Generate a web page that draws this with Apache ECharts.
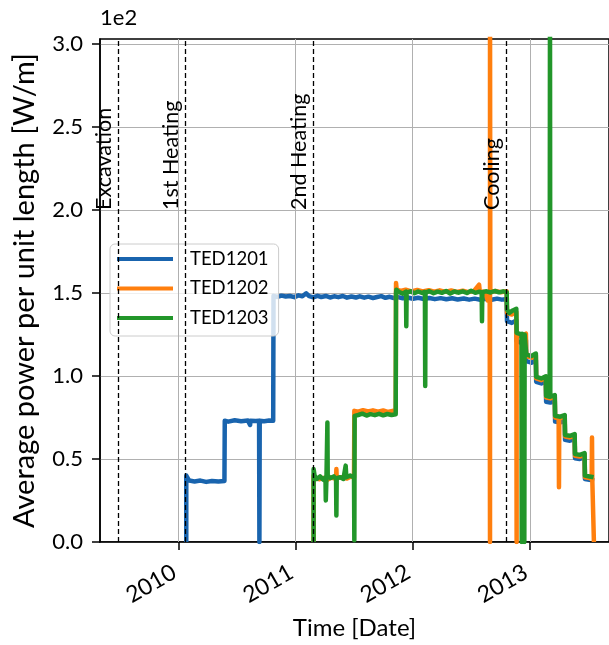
<!DOCTYPE html>
<html>
<head>
<meta charset="utf-8">
<script src="https://cdn.jsdelivr.net/npm/echarts@6/dist/echarts.min.js"></script>
<style>
  html, body { margin: 0; padding: 0; background: #ffffff; }
  #chart { width: 609px; height: 645px; }
</style>
</head>
<body>
<div id="chart"></div>
<script>
// Average power per unit length of the three heaters [W/m], [date, value]
const seriesNames = ['TED1201', 'TED1202', 'TED1203'];

const ted1201 = [
  ['2010-01-25', 0], ['2010-01-25', 40], ['2010-01-29', 38.5], ['2010-02-03', 37], ['2010-02-20', 36.5],
  ['2010-03-10', 37], ['2010-03-28', 36.2], ['2010-04-15', 36.8], ['2010-05-05', 36.4], ['2010-05-24', 36.8],
  ['2010-05-25', 73], ['2010-06-05', 72.5], ['2010-06-25', 73.3], ['2010-07-15', 72.8], ['2010-08-05', 73.2],
  ['2010-08-11', 73], ['2010-08-12', 70.5], ['2010-08-13', 73], ['2010-08-30', 72.9], ['2010-09-09', 73.1],
  ['2010-09-10', 0], ['2010-09-11', 73], ['2010-09-25', 72.8], ['2010-10-10', 73.2], ['2010-10-23', 73],
  ['2010-10-24', 148.3], ['2010-11-05', 147.6], ['2010-11-18', 148.4], ['2010-12-01', 147.9], ['2010-12-14', 148.2],
  ['2010-12-28', 147.5], ['2011-01-10', 148.6], ['2011-01-22', 148.0], ['2011-02-03', 149.8], ['2011-02-12', 148.1],
  ['2011-02-25', 147.4], ['2011-03-10', 148.3], ['2011-03-22', 147.6], ['2011-04-05', 148.2], ['2011-04-18', 147.3],
  ['2011-05-01', 148.0], ['2011-05-14', 147.5], ['2011-05-28', 148.2], ['2011-06-10', 147.2], ['2011-06-24', 147.9],
  ['2011-07-08', 147.3], ['2011-07-20', 148.0], ['2011-08-03', 147.2], ['2011-08-16', 147.8], ['2011-08-30', 147.0],
  ['2011-09-12', 147.6], ['2011-09-25', 148.1], ['2011-10-08', 147.1], ['2011-10-21', 147.7], ['2011-11-03', 147.0],
  ['2011-11-16', 147.5], ['2011-12-01', 146.8], ['2011-12-15', 147.3], ['2012-01-02', 146.5], ['2012-01-18', 147.1],
  ['2012-02-05', 146.4], ['2012-02-22', 147.0], ['2012-03-10', 146.3], ['2012-03-28', 146.9], ['2012-04-15', 146.2],
  ['2012-05-03', 146.8], ['2012-05-20', 146.1], ['2012-06-08', 146.7], ['2012-06-25', 146.0], ['2012-07-12', 146.6],
  ['2012-07-30', 145.9], ['2012-08-16', 146.5], ['2012-09-03', 145.9], ['2012-09-20', 146.6], ['2012-10-05', 146.0],
  ['2012-10-20', 146.4],
  ['2012-10-21', 133], ['2012-11-05', 132], ['2012-11-19', 133.5],
  ['2012-11-20', 121], ['2012-12-05', 120], ['2012-12-19', 121.5],
  ['2012-12-20', 109], ['2013-01-05', 108], ['2013-01-19', 109.5],
  ['2013-01-20', 96.5], ['2013-02-05', 95.5], ['2013-02-19', 96.8],
  ['2013-02-20', 84.5], ['2013-03-05', 84], ['2013-03-19', 85],
  ['2013-03-20', 72.5], ['2013-04-05', 72], ['2013-04-19', 73],
  ['2013-04-20', 61.5], ['2013-05-05', 61], ['2013-05-20', 62],
  ['2013-05-21', 50.5], ['2013-06-05', 50], ['2013-06-20', 51],
  ['2013-06-21', 38], ['2013-07-05', 37.5], ['2013-07-20', 37]
];

const ted1202 = [
  ['2011-02-26', 0], ['2011-02-26', 40], ['2011-03-05', 38.5], ['2011-03-15', 37.8], ['2011-03-28', 38.6],
  ['2011-04-10', 37.5], ['2011-04-22', 38.8], ['2011-05-07', 38], ['2011-05-08', 44], ['2011-05-09', 38.5],
  ['2011-05-25', 39], ['2011-06-10', 38.2], ['2011-06-22', 39.5], ['2011-07-02', 38.8],
  ['2011-07-03', 79], ['2011-07-15', 78.5], ['2011-07-30', 79.4], ['2011-08-15', 78.6], ['2011-08-30', 79.3],
  ['2011-09-15', 78.5], ['2011-10-01', 79.2], ['2011-10-15', 78.4], ['2011-10-30', 79], ['2011-11-09', 78.6],
  ['2011-11-10', 156], ['2011-11-12', 152], ['2011-11-25', 151.2], ['2011-12-10', 152], ['2011-12-28', 151],
  ['2012-01-15', 151.8], ['2012-02-01', 150.9], ['2012-02-20', 151.7], ['2012-03-08', 150.8], ['2012-03-25', 151.6],
  ['2012-04-12', 150.7], ['2012-04-30', 151.5], ['2012-05-18', 150.6], ['2012-06-05', 151.4], ['2012-06-22', 150.5],
  ['2012-07-10', 151.3], ['2012-07-26', 155], ['2012-07-28', 151], ['2012-08-12', 150.6], ['2012-08-22', 145.5],
  ['2012-08-28', 150.5], ['2012-08-29', 0], ['2012-08-29', 330], ['2012-08-30', 150.8], ['2012-09-15', 151.2],
  ['2012-10-01', 150.5], ['2012-10-20', 151],
  ['2012-10-21', 138], ['2012-11-05', 137], ['2012-11-19', 138.5],
  ['2012-11-20', 0], ['2012-11-20', 125], ['2012-12-05', 124], ['2012-12-19', 125.5],
  ['2012-12-20', 112], ['2013-01-05', 111], ['2013-01-19', 112.5],
  ['2013-01-20', 98.5], ['2013-02-05', 97.5], ['2013-02-19', 99],
  ['2013-02-20', 87], ['2013-03-05', 86.5], ['2013-03-19', 87.5],
  ['2013-03-20', 75], ['2013-03-31', 74.5], ['2013-04-01', 33], ['2013-04-02', 74.5], ['2013-04-19', 75.5],
  ['2013-04-20', 63.5], ['2013-05-05', 63], ['2013-05-20', 64],
  ['2013-05-21', 52], ['2013-06-05', 51.5], ['2013-06-20', 52.5],
  ['2013-06-21', 39], ['2013-07-05', 38.5], ['2013-07-12', 38], ['2013-07-13', 63], ['2013-07-14', 37],
  ['2013-07-19', 36], ['2013-07-19', 0]
];

const ted1203 = [
  ['2011-02-26', 0], ['2011-02-26', 44], ['2011-03-01', 40], ['2011-03-08', 38], ['2011-03-18', 39.5],
  ['2011-03-28', 37.5], ['2011-04-04', 39], ['2011-04-05', 25], ['2011-04-07', 38], ['2011-04-10', 72],
  ['2011-04-11', 40], ['2011-04-20', 38.5], ['2011-04-30', 39.5], ['2011-05-07', 38], ['2011-05-08', 16],
  ['2011-05-09', 38.5], ['2011-05-20', 39], ['2011-05-30', 38], ['2011-06-06', 46], ['2011-06-08', 39],
  ['2011-06-20', 40], ['2011-07-02', 39], ['2011-07-03', 1],
  ['2011-07-04', 76], ['2011-07-15', 76.5], ['2011-07-28', 77.3], ['2011-08-10', 76.2], ['2011-08-22', 77],
  ['2011-09-05', 76.4], ['2011-09-18', 77.2], ['2011-10-01', 76.3], ['2011-10-14', 77.1], ['2011-10-27', 76.5],
  ['2011-11-09', 77],
  ['2011-11-10', 150], ['2011-11-11', 152], ['2011-11-20', 150.5], ['2011-12-01', 149.6], ['2011-12-11', 150.8],
  ['2011-12-12', 130], ['2011-12-13', 150.2], ['2011-12-25', 151], ['2012-01-06', 149.8], ['2012-01-18', 150.9],
  ['2012-01-30', 150], ['2012-02-08', 150.6], ['2012-02-09', 94], ['2012-02-10', 150.2], ['2012-02-22', 151.1],
  ['2012-03-06', 149.9], ['2012-03-19', 150.8], ['2012-04-01', 150.1], ['2012-04-14', 151.2], ['2012-04-27', 149.7],
  ['2012-05-10', 150.9], ['2012-05-23', 150.2], ['2012-06-05', 151], ['2012-06-18', 150], ['2012-07-01', 151.3],
  ['2012-07-14', 150.1], ['2012-07-27', 150.8], ['2012-08-03', 150.2], ['2012-08-04', 133], ['2012-08-05', 150.5],
  ['2012-08-18', 151], ['2012-08-31', 150.3], ['2012-09-13', 151.2], ['2012-09-26', 150.4], ['2012-10-09', 151],
  ['2012-10-20', 150.5],
  ['2012-10-21', 140], ['2012-10-28', 138], ['2012-11-08', 139.5], ['2012-11-19', 140.5],
  ['2012-11-20', 126], ['2012-12-05', 125], ['2012-12-06', 0], ['2012-12-07', 125.5], ['2012-12-13', 125],
  ['2012-12-14', 0], ['2012-12-15', 125], ['2012-12-19', 126],
  ['2012-12-20', 113], ['2013-01-05', 112], ['2013-01-19', 113.5],
  ['2013-01-20', 99.5], ['2013-02-05', 98.5], ['2013-02-19', 99.8],
  ['2013-02-20', 88], ['2013-03-03', 87.5], ['2013-03-04', 330], ['2013-03-05', 87.5], ['2013-03-19', 88.5],
  ['2013-03-20', 76], ['2013-04-05', 75.5], ['2013-04-19', 76.5],
  ['2013-04-20', 64.5], ['2013-05-05', 64], ['2013-05-20', 65],
  ['2013-05-21', 53], ['2013-06-05', 52.5], ['2013-06-20', 53.5],
  ['2013-06-21', 40], ['2013-07-05', 39.5], ['2013-07-18', 39]
];

// Test phases marked with vertical dashed lines
const eventDates = ['2009-06-28', '2010-01-23', '2011-02-26', '2012-10-20'];
const eventNames = ['Excavation', '1st Heating', '2nd Heating', 'Cooling'];

// Axis ticks
const yearTicks = ['2010-01-01', '2011-01-01', '2012-01-01', '2013-01-01'];
const yTicks = [0, 50, 100, 150, 200, 250, 300];

const xStart = '2009-05-01';
const xEnd = '2013-09-04';
const yMax = 303;
const eventLabelLevel = 200;

const colors = ['#1964ae', '#ff7f0e', '#22962a'];
const FONT = 'Lato';
const INK = '#000';

const ts = s => Date.parse(s + 'T00:00:00Z');
const toPairs = arr => arr.map(p => [ts(p[0]), p[1]]);

const chart = echarts.init(document.getElementById('chart'), null, { renderer: 'canvas' });

const dataSeries = [ted1201, ted1202, ted1203].map((arr, i) => ({
  name: seriesNames[i],
  type: 'line',
  data: toPairs(arr),
  color: colors[i],
  showSymbol: false,
  symbol: 'none',
  clip: true,
  z: 2 + i * 0.01,
  lineStyle: { color: colors[i], width: 4.5, join: 'round' },
  emphasis: { disabled: true },
  animation: false
}));

const gridLineSeries = {
  name: 'yearGrid',
  type: 'line',
  data: [],
  z: 1,
  silent: true,
  markLine: {
    silent: true,
    symbol: 'none',
    animation: false,
    label: { show: false },
    lineStyle: { color: '#b0b0b0', width: 1, type: 'solid' },
    data: yearTicks.map(d => ({ xAxis: ts(d) }))
  }
};

const eventSeries = {
  name: 'events',
  type: 'line',
  data: [],
  z: 5,
  silent: true,
  markLine: {
    silent: true,
    symbol: 'none',
    animation: false,
    lineStyle: { color: '#000', width: 1.3, type: [5, 3] },
    label: { show: false },
    data: eventDates.map(d => ({ xAxis: ts(d) })).concat(
      eventDates.map((d, i) => [
        {
          coord: [ts(d), eventLabelLevel],
          lineStyle: { color: 'rgba(0,0,0,0)', width: 0 },
          label: {
            show: true,
            position: 'insideStartTop',
            formatter: eventNames[i],
            distance: [0, 4],
            fontFamily: FONT,
            fontSize: 21.5,
            color: INK
          }
        },
        { coord: [ts(d), yMax] }
      ])
    )
  }
};

chart.setOption({
  animation: false,
  backgroundColor: '#ffffff',
  title: {
    text: '1e2',
    left: 100,
    top: 7,
    padding: 0,
    textStyle: { fontFamily: FONT, fontSize: 22, fontWeight: 'normal', color: INK }
  },
  grid: {
    left: 100, top: 39, right: -2, bottom: 101,
    show: true, borderColor: '#000', borderWidth: 1.5, backgroundColor: 'transparent'
  },
  legend: {
    data: seriesNames,
    orient: 'vertical',
    left: 110,
    top: 244,
    icon: 'rect',
    itemWidth: 56,
    itemHeight: 4,
    itemGap: 9.5,
    padding: [5, 10, 8, 7],
    backgroundColor: 'rgba(255,255,255,0.8)',
    borderColor: '#cccccc',
    borderWidth: 1,
    borderRadius: 5,
    selectedMode: false,
    textStyle: { fontFamily: FONT, fontSize: 18.5, color: INK, lineHeight: 20, padding: [0, 0, 0, 12] }
  },
  xAxis: {
    type: 'value',
    min: ts(xStart),
    max: ts(xEnd),
    name: 'Time [Date]',
    nameLocation: 'middle',
    nameGap: 74,
    nameTextStyle: { fontFamily: FONT, fontSize: 24, color: INK },
    axisLine: { show: true, lineStyle: { color: '#000', width: 1.5 } },
    axisTick: { show: true, length: 8, lineStyle: { color: '#000', width: 1.5 }, customValues: yearTicks.map(ts) },
    axisLabel: {
      customValues: yearTicks.map(ts),
      formatter: v => String(new Date(v).getUTCFullYear()),
      rotate: 30,
      margin: 26,
      padding: [0, 5, 0, 0],
      fontFamily: FONT,
      fontSize: 23,
      color: INK
    },
    splitLine: { show: false }
  },
  yAxis: {
    type: 'value',
    min: 0,
    max: yMax,
    interval: 50,
    name: 'Average power per unit length [W/m]',
    nameLocation: 'middle',
    nameGap: 61,
    nameTextStyle: { fontFamily: FONT, fontSize: 29, color: INK },
    axisLine: { show: true, lineStyle: { color: '#000', width: 1.5 } },
    axisTick: { show: true, length: 8, lineStyle: { color: '#000', width: 1.5 }, customValues: yTicks },
    axisLabel: {
      customValues: yTicks,
      formatter: v => (v / 100).toFixed(1),
      margin: 17,
      fontFamily: FONT,
      fontSize: 22,
      color: INK
    },
    splitLine: { show: true, lineStyle: { color: '#b0b0b0', width: 1 } }
  },
  series: [gridLineSeries].concat(dataSeries, [eventSeries])
});
</script>
</body>
</html>
